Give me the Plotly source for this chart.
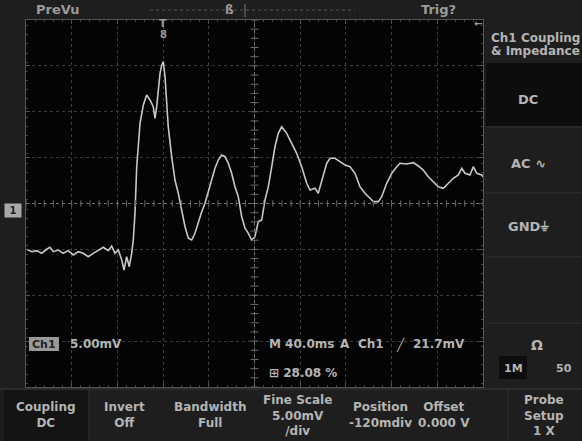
import plotly.graph_objects as go

# ---- data ----
time_ms = [-199.4, -195.0, -190.6, -186.3, -181.9, -179.0, -176.1, -171.7, -167.4, -163.0,
           -158.6, -154.2, -149.9, -145.5, -141.1, -136.7, -132.3, -128.0, -125.0, -122.1,
           -119.2, -116.2, -114.2, -111.9, -109.6, -107.5, -106.1, -104.6, -103.1, -100.2,
           -97.3, -94.4, -91.5, -88.6, -87.1, -85.6, -84.2, -82.7, -81.2, -79.8,
           -78.3, -76.9, -75.5, -72.5, -69.6, -66.7, -63.7, -60.8, -57.9, -55.0,
           -52.1, -49.2, -46.2, -43.3, -40.4, -37.5, -34.6, -31.7, -28.7, -25.8,
           -22.9, -20.0, -17.1, -14.2, -11.2, -8.3, -5.4, -2.5, 0.4, 3.3,
           6.3, 9.2, 12.1, 15.1, 17.9, 20.8, 23.8, 28.2, 32.6, 36.9,
           41.3, 45.7, 48.6, 53.0, 55.8, 60.2, 63.2, 66.1, 70.5, 74.8,
           79.2, 83.6, 88.0, 92.3, 96.7, 101.1, 104.0, 108.4, 111.3, 115.7,
           120.1, 124.5, 127.4, 133.2, 139.0, 143.4, 147.7, 152.1, 156.5, 160.9,
           165.3, 169.6, 174.0, 178.4, 181.4, 184.3, 188.6, 191.5, 194.5, 198.9, 199.9]
voltage_mv = [-4.39, -4.65, -4.54, -4.83, -4.39, -4.17, -4.65, -4.47, -4.83, -4.54,
              -5.01, -4.65, -4.83, -5.20, -4.83, -4.47, -4.17, -4.54, -4.03, -4.83,
              -4.47, -5.56, -6.65, -5.20, -6.29, -4.83, -3.38, -0.47, 4.61, 9.34,
              11.34, 12.43, 11.88, 11.15, 9.89, 11.15, 13.33, 14.79, 15.70, 16.06,
              14.42, 11.15, 8.97, 5.70, 3.16, 1.71, -0.11, -1.93, -3.19, -3.38,
              -2.65, -1.38, -0.29, 0.62, 1.89, 3.16, 4.44, 5.34, 5.89, 5.70,
              4.98, 3.89, 2.43, 1.34, -0.84, -2.10, -2.65, -3.38, -3.02, -1.38,
              -1.20, 0.98, 2.43, 4.61, 6.79, 8.25, 8.97, 8.25, 7.16, 6.07,
              4.61, 2.80, 2.07, 2.26, 1.71, 3.52, 4.98, 5.53, 5.53, 5.16,
              4.80, 4.61, 3.89, 2.43, 1.71, 1.17, 0.80, 0.80, 1.34, 2.80,
              3.89, 4.61, 4.98, 4.91, 5.05, 4.69, 4.25, 3.52, 2.98, 2.43,
              2.26, 2.80, 3.35, 3.71, 4.44, 3.89, 3.71, 4.61, 3.89, 3.71, 3.52]

bottom_labels = ["Coupling<br>DC", "Invert<br>Off", "Bandwidth<br>Full",
                 "Fine Scale<br>5.00mV<br>/div", "Position<br>-120mdiv",
                 "Offset<br>0.000 V", "Probe<br>Setup<br>1 X"]
side_labels = ["DC", "AC ∿", "GND⏚"]
status_words = ["M 40.0ms", "A", "Ch1", "╱", "21.7mV"]

W, H = 582, 441
def px(x): return x / W
def py(y): return 1 - y / H

TXT = "#b4b4b4"
DIM = "#9a9a9a"
FONT = "DejaVu Sans"

fig = go.Figure()
fig.add_trace(go.Scatter(x=time_ms, y=voltage_mv, mode="lines",
                         line=dict(color="#c8c8c8", width=1.6), hoverinfo="skip"))

shapes = []
# panels
shapes.append(dict(type="rect", xref="paper", yref="paper", x0=px(486), x1=px(582), y0=py(126), y1=py(63),
                   fillcolor="#0d0d0d", line_width=0, layer="below"))
for yy in [127, 193, 257, 323]:
    shapes.append(dict(type="line", xref="paper", yref="paper", x0=px(486), x1=px(582), y0=py(yy), y1=py(yy),
                       line=dict(color="#303030", width=1)))
shapes.append(dict(type="rect", xref="paper", yref="paper", x0=px(499), x1=px(527), y0=py(379), y1=py(356),
                   fillcolor="#0d0d0d", line_width=0, layer="below"))
# bottom menu
shapes.append(dict(type="rect", xref="paper", yref="paper", x0=px(4), x1=px(89), y0=0, y1=py(390),
                   fillcolor="#141414", line_width=0, layer="below"))
shapes.append(dict(type="line", xref="paper", yref="paper", x0=0, x1=1, y0=py(389), y1=py(389),
                   line=dict(color="#3a3a3a", width=1)))
for xx in [89, 508]:
    shapes.append(dict(type="line", xref="paper", yref="paper", x0=px(xx), x1=px(xx), y0=0, y1=py(389),
                       line=dict(color="#303030", width=1)))
# top record bar
shapes.append(dict(type="line", xref="paper", yref="paper", x0=px(150), x1=px(355), y0=py(10), y1=py(10),
                   line=dict(color="#555555", width=1, dash="dot")))
shapes.append(dict(type="line", xref="paper", yref="paper", x0=px(245), x1=px(245), y0=py(4), y1=py(17),
                   line=dict(color="#777777", width=1)))
# Ch1 tag box
shapes.append(dict(type="rect", xref="paper", yref="paper", x0=px(29), x1=px(59), y0=py(351), y1=py(337),
                   fillcolor="#9a9a9a", line_width=0))
# graticule centre lines
shapes.append(dict(type="line", xref="x", yref="paper", x0=0, x1=0, y0=py(387), y1=py(20),
                   line=dict(color="#707070", width=1, dash="dot")))
shapes.append(dict(type="line", xref="paper", yref="y", x0=px(26), x1=px(483), y0=0.6, y1=0.6,
                   line=dict(color="#707070", width=1, dash="dot")))
for i in range(-25, 26):
    shapes.append(dict(type="line", xref="x", yref="y", x0=i * 8, x1=i * 8, y0=0.6 - 0.35, y1=0.6 + 0.35,
                       line=dict(color="#6a6a6a", width=1)))
for i in range(-20, 21):
    shapes.append(dict(type="line", xref="x", yref="y", x0=-3.5, x1=3.5, y0=0.6 + i, y1=0.6 + i,
                       line=dict(color="#6a6a6a", width=1)))

ann = []
def t(x, y, s, size=12, anchor="center", color=TXT, weight="bold", **kw):
    ann.append(dict(x=px(x), y=py(y), xref="paper", yref="paper", text=s, showarrow=False,
                    xanchor=anchor, yanchor="middle",
                    font=dict(family=FONT, size=size, color=color, weight=weight), **kw))

t(34, 9, "PreVu", size=13, anchor="left", color=DIM)
t(229, 10, "ß", size=12, color=DIM)
t(419, 9, "Trig?", size=13, anchor="left", color=DIM)
t(163, 23, "T", size=11, color=DIM)
t(163, 34, "8", size=10, color=DIM)
t(478, 24, "←", size=10, color=DIM)
t(13, 210, " 1 ", size=10, color="#202020", bgcolor="#a8a8a8", borderpad=1)
t(44, 344, "Ch1", size=11, color="#222222")
t(68, 344, "5.00mV", size=12, anchor="left")
for xx, s in zip([267, 338, 356, 394, 411], status_words):
    t(xx, 344, s, size=12, anchor="left")
t(267, 373, "⊞ 28.08 %", size=12, anchor="left")
# right panel
t(489, 38, "Ch1 Coupling", size=12, anchor="left")
t(489, 51, "& Impedance", size=12, anchor="left")
for yy, s in zip([100, 163, 226], side_labels):
    t(528, yy, s, size=13)
t(537, 345, "Ω", size=14)
t(513, 368, "1M", size=11)
t(564, 368, "50", size=11)
# bottom menu
for xx, s in zip([46, 124, 210, 297, 380, 444, 544], bottom_labels):
    ann.append(dict(x=px(xx), y=py(415), xref="paper", yref="paper", text=s, showarrow=False,
                    xanchor="center", yanchor="middle", align="center",
                    font=dict(family=FONT, size=12, color=TXT, weight="bold")))

fig.update_layout(
    width=W, height=H, margin=dict(l=0, r=0, t=0, b=0),
    paper_bgcolor="#1e1e1e", plot_bgcolor="#040404",
    showlegend=False, shapes=shapes, annotations=ann,
    xaxis=dict(range=[-200, 200], domain=[px(26), px(483)], tick0=0, dtick=40,
               showgrid=True, gridcolor="#3c3c3c", griddash="dot", gridwidth=1,
               zeroline=False, showticklabels=False, showline=True, linecolor="#555555",
               mirror="ticks", ticks="inside", ticklen=4, tickcolor="#555555",
               minor=dict(ticks="inside", dtick=8, ticklen=2, tickcolor="#444444", showgrid=False),
               fixedrange=True),
    yaxis=dict(range=[-19.4, 20.6], domain=[py(387), py(20)], tick0=0.6, dtick=5,
               showgrid=True, gridcolor="#3c3c3c", griddash="dot", gridwidth=1,
               zeroline=False, showticklabels=False, showline=True, linecolor="#555555",
               mirror="ticks", ticks="inside", ticklen=4, tickcolor="#555555",
               minor=dict(ticks="inside", dtick=1, ticklen=2, tickcolor="#444444", showgrid=False),
               fixedrange=True),
)

fig.write_html("out.html", config={"displayModeBar": False})
